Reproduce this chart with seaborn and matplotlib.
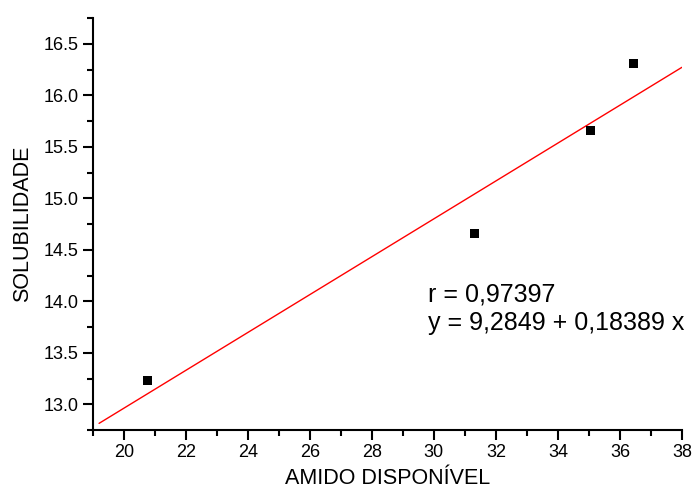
import matplotlib
matplotlib.use("Agg")
import matplotlib.pyplot as plt
from matplotlib.ticker import MultipleLocator, FormatStrFormatter
import numpy as np
import pandas as pd
import seaborn as sns

# data
amido = [20.77, 31.31, 35.05, 36.43]
solubilidade = [13.23, 14.66, 15.66, 16.31]

# linear fit reported on the chart
intercept = 9.2849
slope = 0.18389
r_value = 0.97397
fit_x_range = [19.2, 38.0]


def main():
    sns.set_theme(style="ticks")
    plt.rcParams["font.family"] = ["Liberation Sans", "DejaVu Sans"]
    plt.rcParams["text.color"] = "black"
    plt.rcParams["axes.labelcolor"] = "black"

    data = pd.DataFrame({"amido": amido, "solubilidade": solubilidade})
    fit_x = np.array(fit_x_range)
    fit = pd.DataFrame({"amido": fit_x, "solubilidade": intercept + slope * fit_x})

    fig = plt.figure(figsize=(6.93, 4.91), dpi=100)
    ax = fig.add_axes([0.134, 0.124, 0.850, 0.839])

    sns.lineplot(x="amido", y="solubilidade", data=fit, color="red", lw=1, ax=ax)
    sns.scatterplot(x="amido", y="solubilidade", data=data, marker="s", s=45,
                    color="black", edgecolor="none", ax=ax, zorder=3)

    ax.set_xlim(19, 38)
    ax.set_ylim(12.75, 16.75)
    ax.xaxis.set_major_locator(MultipleLocator(2))
    ax.xaxis.set_minor_locator(MultipleLocator(1))
    ax.yaxis.set_major_locator(MultipleLocator(0.5))
    ax.yaxis.set_minor_locator(MultipleLocator(0.25))
    ax.yaxis.set_major_formatter(FormatStrFormatter("%.1f"))

    for side in ["top", "right"]:
        ax.spines[side].set_visible(False)
    for side in ["left", "bottom"]:
        ax.spines[side].set_linewidth(1.5)
        ax.spines[side].set_color("black")
    ax.tick_params(which="major", length=7, width=1.5, direction="out",
                   labelsize=13, colors="black", pad=3)
    ax.tick_params(which="minor", length=4, width=1.5, direction="out",
                   colors="black")

    ax.set_xlabel("AMIDO DISPONÍVEL", fontsize=15.5, labelpad=5)
    ax.set_ylabel("SOLUBILIDADE", fontsize=15.5, labelpad=8)

    ax.text(29.8, 14.0, f"r = {r_value:.5f}".replace(".", ","), fontsize=18)
    ax.text(29.8, 13.72, f"y = {intercept:.4f} + {slope:.5f} x".replace(".", ","),
            fontsize=18)

    fig.savefig("out.png", dpi=100)
    plt.close(fig)


if __name__ == "__main__":
    main()
